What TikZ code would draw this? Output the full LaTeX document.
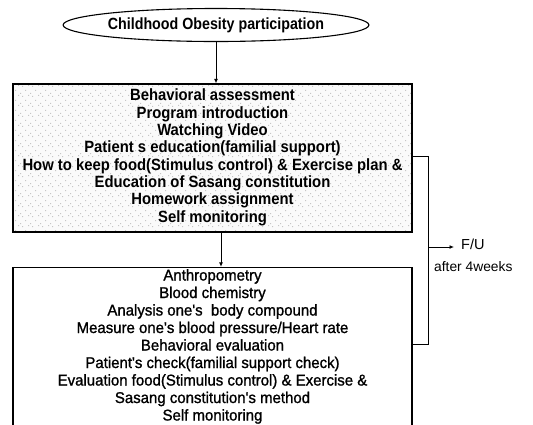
\documentclass[tikz,border=0pt]{standalone}
\usepackage{fontspec}
\setmainfont{Liberation Sans}
\newfontfamily\medfont[BoldFont={Liberation Sans},BoldFeatures={FakeBold=1.2}]{Liberation Sans}
\usetikzlibrary{shapes.geometric,arrows.meta,patterns}
\pgfdeclarepatternformonly{speck}{\pgfqpoint{-1pt}{-1pt}}{\pgfqpoint{11pt}{11pt}}{\pgfqpoint{10pt}{10pt}}{%
  \pgfpathrectangle{\pgfqpoint{0pt}{0pt}}{\pgfqpoint{1pt}{1pt}}%
  \pgfpathrectangle{\pgfqpoint{5pt}{3pt}}{\pgfqpoint{1pt}{1pt}}%
  \pgfpathrectangle{\pgfqpoint{2pt}{7pt}}{\pgfqpoint{1pt}{1pt}}%
  \pgfpathrectangle{\pgfqpoint{8pt}{8pt}}{\pgfqpoint{1pt}{1pt}}%
  \pgfusepath{fill}}
\newcommand\sqz[2]{\scalebox{#1}[1]{\begin{tabular}{@{}c@{}}#2\end{tabular}}}
\begin{document}
\begin{tikzpicture}[x=1pt,y=-1pt,
  boxline/.style={draw=black,line width=1.3pt},
  conn/.style={draw=black,line width=1pt},
  tip/.style={-{Latex[length=4.5pt,width=4pt]}},
  topfont/.style={font=\fontsize{16.3}{17.3}\selectfont\bfseries},
  lowfont/.style={font=\fontsize{15.6}{17.5}\selectfont\medfont\bfseries}
]
\useasboundingbox (0,0) rectangle (533,424);
\node[ellipse,boxline,line width=1.1pt,minimum width=250pt,minimum height=33pt,inner sep=0pt,
  font=\fontsize{16.2}{17}\selectfont\bfseries] (ell) at (216,25) {\scalebox{0.88}[1]{Childhood Obesity participation}};
\node[rectangle,boxline,preaction={fill=gray!4},pattern=speck,pattern color=gray!45,
  minimum width=399pt,minimum height=148pt,inner sep=0pt,topfont] (top) at (212.5,158)
  {\sqz{0.91}{Behavioral assessment\\Program introduction\\Watching Video\\Patient s education(familial support)\\How to keep food(Stimulus control) \& Exercise plan \&\\Education of Sasang constitution\\Homework assignment\\Self monitoring}};
\node[rectangle,boxline,minimum width=399pt,minimum height=159pt,inner sep=0pt,lowfont] (low) at (212.5,347)
  {\sqz{0.96}{Anthropometry\\Blood chemistry\\Analysis one's~ body compound\\Measure one's blood pressure/Heart rate\\Behavioral evaluation\\Patient's check(familial support check)\\Evaluation food(Stimulus control) \& Exercise \&\\Sasang constitution's method\\Self monitoring}};
\draw[conn,tip] (ell.south) -- (ell.south |- top.north);
\coordinate (ax) at (221,0);
\draw[conn,tip] (top.south -| ax) -- (low.north -| ax);
\coordinate (b1) at (428,156);
\coordinate (b2) at (428,344);
\coordinate (fa) at (428,247);
\draw[conn] (top.east |- b1) -- (b1) -- (b2) -- (low.east |- b2);
\node[anchor=west,inner sep=0pt,font=\fontsize{14.5}{16}\selectfont] (fu) at (461,244) {F/U};
\node[anchor=west,inner sep=0pt,font=\fontsize{13.8}{16}\selectfont] (aw) at (434,267) {after 4weeks};
\draw[conn,tip,shorten >=7pt] (fa) -- (fa -| fu.west);
\end{tikzpicture}
\end{document}
